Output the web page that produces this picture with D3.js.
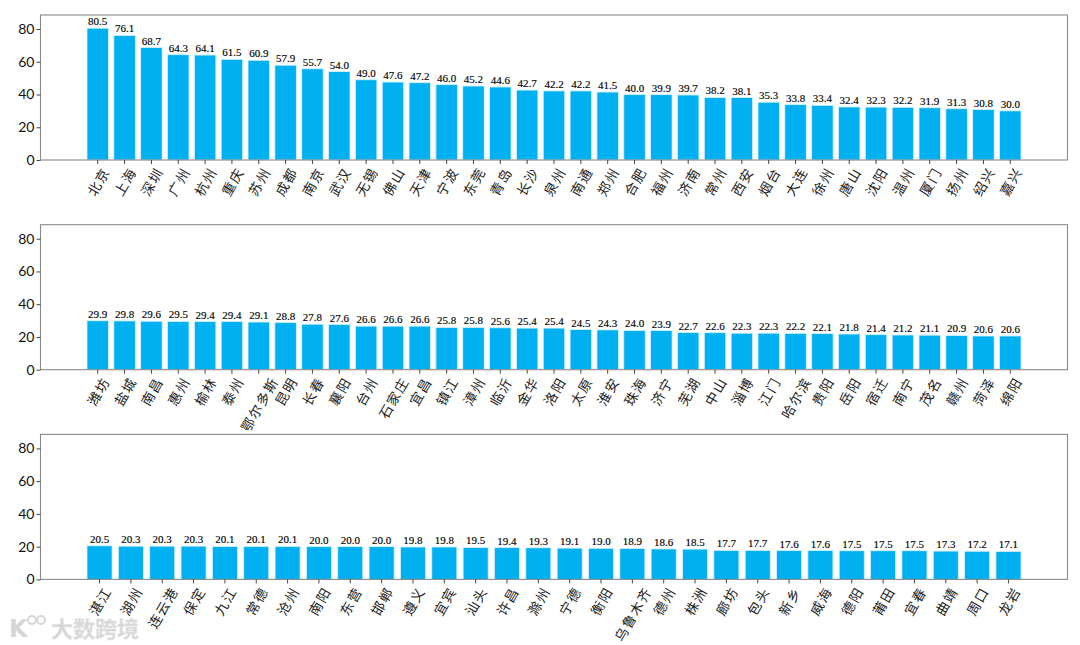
<!DOCTYPE html>
<html><head><meta charset="utf-8">
<script src="https://cdn.jsdelivr.net/npm/d3@7/dist/d3.min.js"></script>
<style>body{margin:0;background:#fff} svg{display:block}</style>
</head><body>
<svg id="c" width="1080" height="645"></svg>
<script>
const cats1 = ["北京","上海","深圳","广州","杭州","重庆","苏州","成都","南京","武汉","无锡","佛山","天津","宁波","东莞","青岛","长沙","泉州","南通","郑州","合肥","福州","济南","常州","西安","烟台","大连","徐州","唐山","沈阳","温州","厦门","扬州","绍兴","嘉兴"];
const vals1 = [80.5,76.1,68.7,64.3,64.1,61.5,60.9,57.9,55.7,54.0,49.0,47.6,47.2,46.0,45.2,44.6,42.7,42.2,42.2,41.5,40.0,39.9,39.7,38.2,38.1,35.3,33.8,33.4,32.4,32.3,32.2,31.9,31.3,30.8,30.0];
const cats2 = ["潍坊","盐城","南昌","惠州","榆林","泰州","鄂尔多斯","昆明","长春","襄阳","台州","石家庄","宜昌","镇江","漳州","临沂","金华","洛阳","太原","淮安","珠海","济宁","芜湖","中山","淄博","江门","哈尔滨","贵阳","岳阳","宿迁","南宁","茂名","赣州","菏泽","绵阳"];
const vals2 = [29.9,29.8,29.6,29.5,29.4,29.4,29.1,28.8,27.8,27.6,26.6,26.6,26.6,25.8,25.8,25.6,25.4,25.4,24.5,24.3,24.0,23.9,22.7,22.6,22.3,22.3,22.2,22.1,21.8,21.4,21.2,21.1,20.9,20.6,20.6];
const cats3 = ["湛江","湖州","连云港","保定","九江","常德","沧州","南阳","东营","邯郸","遵义","宜宾","汕头","许昌","滁州","宁德","衡阳","乌鲁木齐","德州","株洲","廊坊","包头","新乡","威海","德阳","莆田","宜春","曲靖","周口","龙岩"];
const vals3 = [20.5,20.3,20.3,20.3,20.1,20.1,20.1,20.0,20.0,20.0,19.8,19.8,19.5,19.4,19.3,19.1,19.0,18.9,18.6,18.5,17.7,17.7,17.6,17.6,17.5,17.5,17.5,17.3,17.2,17.1];
const yTicks = [0,20,40,60,80];
const yMax = 88.55;

const panels = [{cats:cats1, vals:vals1},{cats:cats2, vals:vals2},{cats:cats3, vals:vals3}];
const svg = d3.select('#c');
const left = 40.5, right = 1067.5, H = 145;
const labFont = 13.5;
const ang = 60 * Math.PI/180;

panels.forEach((p,i)=>{
  const top = 15 + i*209.7;
  const bottom = top + H;
  const x = d3.scaleBand().domain(p.cats).range([87,1021]).paddingInner(0.2).paddingOuter(0);
  const y = d3.scaleLinear().domain([0,yMax]).range([bottom, top]);
  const g = svg.append('g');
  const data = p.cats.map((c,j)=>({c, v:p.vals[j]}));

  g.selectAll('rect.bar').data(data).join('rect').attr('class','bar')
    .attr('x',d=>x(d.c)).attr('y',d=>y(d.v))
    .attr('width',x.bandwidth()).attr('height',d=>y(0)-y(d.v))
    .attr('fill','#00b0f0').attr('stroke','#d6f3ff').attr('stroke-width',0.8);

  g.selectAll('text.val').data(data).join('text').attr('class','val')
    .attr('x',d=>x(d.c)+x.bandwidth()/2).attr('y',d=>y(d.v)-3)
    .attr('text-anchor','middle')
    .attr('font-family','"Liberation Serif","Times New Roman",serif')
    .attr('font-size',11).attr('fill','#000').attr('stroke','#000').attr('stroke-width',0.15)
    .text(d=>d.v.toFixed(1));

  // frame
  g.append('rect').attr('x',left).attr('y',top).attr('width',right-left).attr('height',H)
    .attr('fill','none').attr('stroke','#8a8a8a').attr('stroke-width',1.1);

  // y axis
  const ya = g.append('g').attr('transform',`translate(${left},0)`)
    .call(d3.axisLeft(y).tickValues(yTicks).tickSize(4).tickPadding(2));
  ya.select('.domain').remove();
  ya.selectAll('line').attr('stroke','#444');
  ya.selectAll('text').attr('font-family','Lato, "Open Sans", sans-serif').attr('font-size',14).attr('fill','#111');

  // x axis ticks
  const xa = g.append('g').attr('transform',`translate(0,${bottom})`)
    .call(d3.axisBottom(x).tickSize(4).tickFormat(''));
  xa.select('.domain').remove();
  xa.selectAll('line').attr('stroke','#444');

  // rotated x labels
  const y0 = bottom + 5;
  g.selectAll('text.xl').data(data).join('text').attr('class','xl')
    .attr('text-anchor','middle').attr('dominant-baseline','central')
    .attr('font-family','"Noto Sans CJK SC", sans-serif')
    .attr('font-size',labFont).attr('letter-spacing',1.5).attr('fill','#222')
    .text(d=>d.c)
    .each(function(d){
      const L = this.getComputedTextLength();
      const bh = L*Math.sin(ang) + labFont*Math.cos(ang);
      const cx = x(d.c)+x.bandwidth()/2;
      d3.select(this).attr('transform',`translate(${cx},${y0+bh/2}) rotate(-60)`);
    });
});

// watermark
const wm = svg.append('g').attr('opacity',0.9);
wm.append('text').attr('x',51).attr('y',637)
  .attr('font-family','"Noto Sans CJK SC", sans-serif').attr('font-weight',700)
  .attr('font-size',22).attr('fill','#d2d2d2').attr('stroke','#e8e8e8').attr('stroke-width',0.6)
  .text('大数跨境');
wm.append('text').attr('x',9).attr('y',637)
  .attr('font-family','"DejaVu Sans", sans-serif').attr('font-weight',700)
  .attr('font-size',24).attr('fill','#d2d2d2').text('K');
wm.append('circle').attr('cx',32).attr('cy',620).attr('r',4).attr('fill','none').attr('stroke','#d2d2d2').attr('stroke-width',2);
wm.append('circle').attr('cx',41).attr('cy',620).attr('r',4).attr('fill','none').attr('stroke','#d2d2d2').attr('stroke-width',2);
</script>
</body></html>
